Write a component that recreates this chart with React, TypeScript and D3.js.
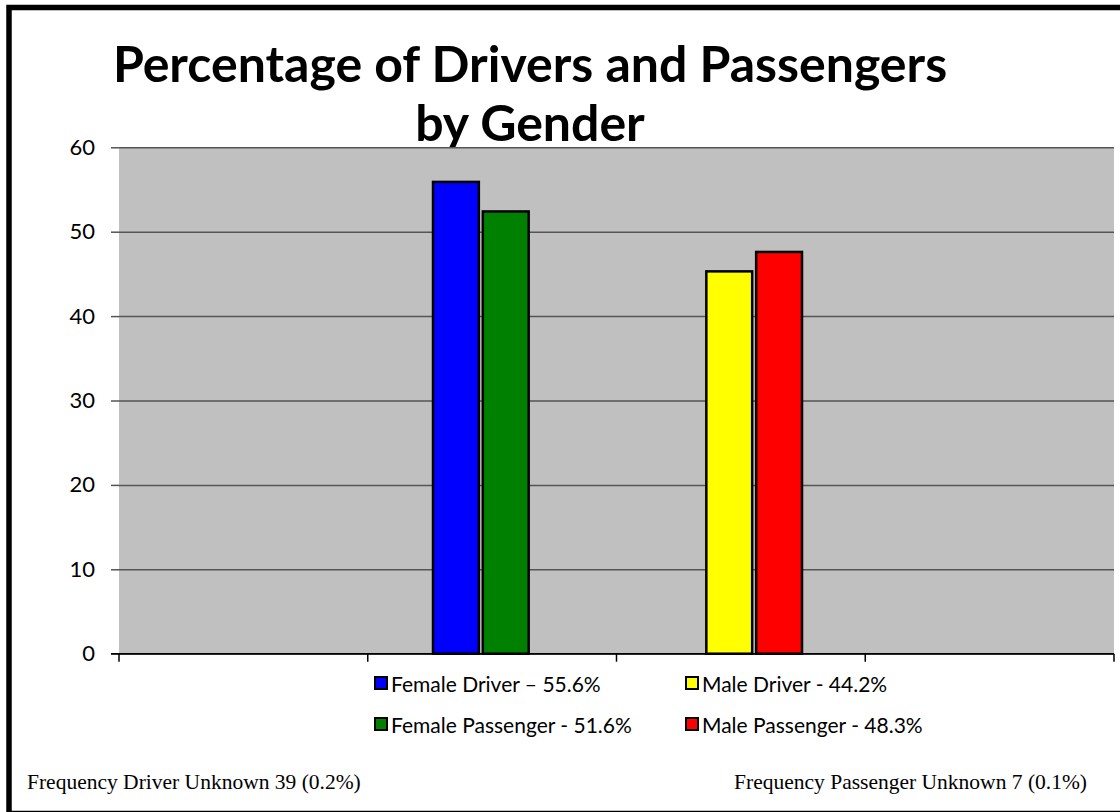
// react
import { useEffect, useRef } from "react";

// d3
import * as d3 from "d3";

// data
const categories = ["", "Female", "Male", ""];
const groups = ["Female", "Male"];
const seriesNames = [
  "Female Driver",
  "Female Passenger",
  "Male Driver",
  "Male Passenger",
];
const seriesGroup = ["Female", "Female", "Male", "Male"];
const seriesSlot = [0, 1, 0, 1];
const barValues = [55.9, 52.4, 45.3, 47.6];
const seriesColors = ["#0000FF", "#008000", "#FFFF00", "#FF0000"];
const legendLabels = [
  "Female Driver \u2013 55.6%",
  "Female Passenger - 51.6%",
  "Male Driver - 44.2%",
  "Male Passenger - 48.3%",
];
const yTicks = [0, 10, 20, 30, 40, 50, 60];
const titleLines = ["Percentage of Drivers and Passengers", "by Gender"];
const footnotes = [
  "Frequency Driver Unknown 39 (0.2%)",
  "Frequency Passenger Unknown 7 (0.1%)",
];

const W = 1120;
const H = 812;
const SANS = "Lato, 'Open Sans', sans-serif";
const SERIF = "'Liberation Serif', 'Times New Roman', serif";

export default function App() {
  const ref = useRef<SVGSVGElement>(null);

  useEffect(() => {
    if (!ref.current) return;
    const svg = d3.select(ref.current);
    svg.selectAll("*").remove();

    const m = { top: 147.3, right: 6, bottom: 158.3, left: 119 };
    const w = W - m.left - m.right;
    const h = H - m.top - m.bottom;

    // frame
    svg
      .append("rect")
      .attr("x", 9)
      .attr("y", 7.5)
      .attr("width", W + 20)
      .attr("height", 806)
      .attr("fill", "#fff")
      .attr("stroke", "#000")
      .attr("stroke-width", 5.5);

    // title
    titleLines.forEach((line, i) => {
      svg
        .append("text")
        .attr("x", 530)
        .attr("y", 82 + i * 59)
        .attr("text-anchor", "middle")
        .attr("font-family", SANS)
        .attr("font-weight", 700)
        .attr("font-size", 50)
        .attr("fill", "#000")
        .text(line);
    });

    const g = svg
      .append("g")
      .attr("transform", `translate(${m.left},${m.top})`);

    const x = d3
      .scaleBand<string>()
      .domain(categories.map((_, i) => `${i}`))
      .range([0, w]);
    const y = d3.scaleLinear().domain([0, 60]).range([h, 0]);

    // group placement inside the plot
    const gx = d3
      .scaleBand<string>()
      .domain(groups)
      .range([433 - m.left, 802 - m.left])
      .paddingInner(0.65);
    const sx = d3
      .scaleBand<number>()
      .domain([0, 1])
      .range([0, gx.bandwidth()])
      .paddingInner(0.08);

    // plot area
    g.append("rect")
      .attr("width", w)
      .attr("height", h)
      .attr("fill", "#C0C0C0");

    // grid + y ticks
    g.append("g")
      .call(
        d3
          .axisLeft(y)
          .tickValues(yTicks)
          .tickSize(8)
          .tickPadding(16)
          .tickFormat((d) => `${d}`),
      )
      .call((a) => {
        a.select(".domain").remove();
        a.selectAll("line").attr("stroke", "#555").attr("stroke-width", 1.5);
        a.selectAll(".tick")
          .append("line")
          .attr("x1", 0)
          .attr("x2", w)
          .attr("stroke", "#555")
          .attr("stroke-width", 1.5);
        a.selectAll("text")
          .attr("font-family", SANS)
          .attr("font-size", 22)
          .attr("fill", "#000");
      });

    // bars
    g.selectAll("rect.bar")
      .data(barValues)
      .join("rect")
      .attr("class", "bar")
      .attr("x", (_, i) => (gx(seriesGroup[i]) ?? 0) + (sx(seriesSlot[i]) ?? 0))
      .attr("y", (d) => y(d))
      .attr("width", sx.bandwidth())
      .attr("height", (d) => h - y(d))
      .attr("fill", (_, i) => seriesColors[i])
      .attr("stroke", "#000")
      .attr("stroke-width", 2.5);

    // x axis
    g.append("g")
      .attr("transform", `translate(0,${h})`)
      .call((a) => {
        const edges = d3.range(categories.length + 1).map((i) => i * x.step());
        a.append("line")
          .attr("x1", -8)
          .attr("x2", w)
          .attr("stroke", "#000")
          .attr("stroke-width", 1.5);
        a.selectAll("line.edge")
          .data(edges)
          .join("line")
          .attr("class", "edge")
          .attr("x1", (d) => d)
          .attr("x2", (d) => d)
          .attr("y1", 0)
          .attr("y2", 8)
          .attr("stroke", "#000")
          .attr("stroke-width", 1.5);
      });

    // legend
    const legCols = [375, 686];
    const legRows = [683, 724];
    const leg = svg.append("g");
    seriesNames.forEach((name, i) => {
      const cx = legCols[Math.floor(i / 2)];
      const cy = legRows[i % 2];
      leg
        .append("rect")
        .attr("x", cx)
        .attr("y", cy - 6)
        .attr("width", 12)
        .attr("height", 12)
        .attr("fill", seriesColors[i])
        .attr("stroke", "#000")
        .attr("stroke-width", 2)
        .attr("data-name", name);
      leg
        .append("text")
        .attr("x", cx + 16)
        .attr("y", cy)
        .attr("dominant-baseline", "central")
        .attr("font-family", SANS)
        .attr("font-size", 21)
        .attr("fill", "#000")
        .text(legendLabels[i]);
    });

    // footnotes
    svg
      .append("text")
      .attr("x", 27)
      .attr("y", 789)
      .attr("font-family", SERIF)
      .attr("font-size", 21.5)
      .attr("fill", "#000")
      .text(footnotes[0]);
    svg
      .append("text")
      .attr("x", 1087)
      .attr("y", 789)
      .attr("text-anchor", "end")
      .attr("font-family", SERIF)
      .attr("font-size", 21.5)
      .attr("fill", "#000")
      .text(footnotes[1]);
  }, []);

  return (
    <div style={{ position: "absolute", left: 0, top: 0 }}>
      <svg ref={ref} width={W} height={H} style={{ display: "block" }} />
    </div>
  );
}
